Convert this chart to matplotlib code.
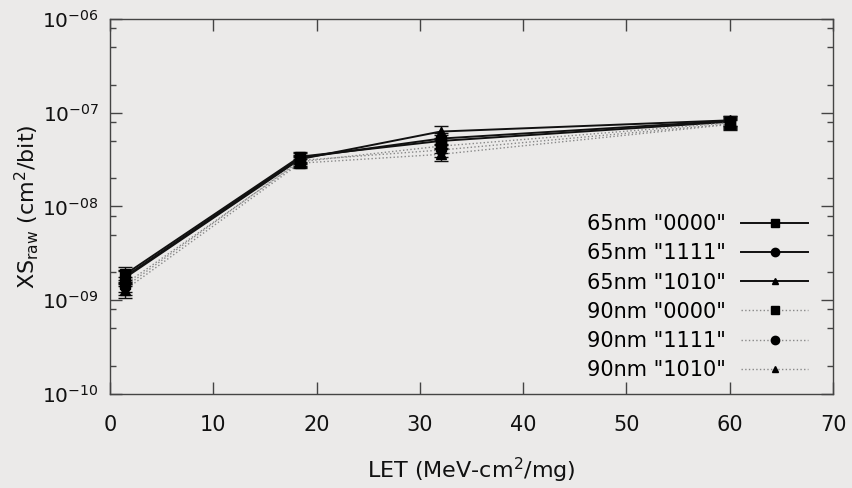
import matplotlib
matplotlib.use('Agg')
import matplotlib.pyplot as plt
from matplotlib.ticker import LogLocator, FuncFormatter, MultipleLocator, NullFormatter
import numpy as np

# LET points (MeV-cm2/mg)
let = [1.5, 18.4, 32.0, 60.0]

# cross sections per bit (cm2/bit)
xs_65_0000 = [1.90e-9, 3.40e-8, 5.00e-8, 8.00e-8]
xs_65_1111 = [1.80e-9, 3.30e-8, 5.30e-8, 8.20e-8]
xs_65_1010 = [1.75e-9, 3.20e-8, 6.30e-8, 8.30e-8]
xs_90_0000 = [1.50e-9, 3.00e-8, 4.40e-8, 7.80e-8]
xs_90_1111 = [1.40e-9, 3.10e-8, 4.00e-8, 7.60e-8]
xs_90_1010 = [1.30e-9, 2.90e-8, 3.60e-8, 7.50e-8]

# relative error (fraction)
rel_err = [0.18, 0.12, 0.15, 0.12]

labels = ['65nm "0000"', '65nm "1111"', '65nm "1010"',
          '90nm "0000"', '90nm "1111"', '90nm "1010"']

plt.rcParams['mathtext.default'] = 'regular'
plt.rcParams['font.family'] = 'DejaVu Sans'

bg = '#ebeae9'
fig = plt.figure(figsize=(8.52, 4.88), dpi=100, facecolor=bg)
ax = fig.add_axes([0.1291, 0.1926, 0.8486, 0.7685], facecolor=bg)

series = [xs_65_0000, xs_65_1111, xs_65_1010, xs_90_0000, xs_90_1111, xs_90_1010]
markers = ['s', 'o', '^', 's', 'o', '^']
for i, (ys, m, lab) in enumerate(zip(series, markers, labels)):
    ys = np.array(ys)
    err = ys * np.array(rel_err)
    if i < 3:
        ls, lc, lw = '-', '#111111', 1.4
    else:
        ls, lc, lw = ':', '#888888', 1.0
    ms = 7 if m != '^' else 6.5
    ax.errorbar(let, ys, yerr=err, fmt='none', ecolor='#111111',
                elinewidth=1.0, capsize=5, capthick=1.0, zorder=3)
    ax.plot(let, ys, linestyle=ls, color=lc, lw=lw, zorder=2)
    ax.plot(let, ys, linestyle='none', marker=m, color='black',
            markersize=ms, zorder=4)
    # legend proxy
    ax.plot([], [], linestyle=ls, color=lc, lw=lw, marker=m,
            markerfacecolor='black', markeredgecolor='black',
            markersize=6 if m != '^' else 5, label=lab)

ax.set_yscale('log')
ax.set_xlim(0, 70)
ax.set_ylim(1e-10, 1e-6)

ax.xaxis.set_major_locator(MultipleLocator(10))
ax.yaxis.set_major_locator(LogLocator(base=10, numticks=10))
ax.yaxis.set_minor_locator(LogLocator(base=10, subs=[2, 5, 8], numticks=10))
ax.yaxis.set_minor_formatter(NullFormatter())
ax.yaxis.set_major_formatter(FuncFormatter(
    lambda v, p: '$10^{-%02d}$' % int(round(-np.log10(v)))))

ax.tick_params(which='both', direction='in', top=True, right=True,
               color='#444444', width=1.0, labelcolor='#111111')
ax.tick_params(which='major', length=8.5)
ax.tick_params(which='minor', length=4.5)
ax.tick_params(axis='x', labelsize=15, pad=15)
ax.tick_params(axis='y', labelsize=14.5, pad=8)
for s in ax.spines.values():
    s.set_color('#444444')
    s.set_linewidth(1.0)

ax.set_xlabel('LET (MeV-cm$^2$/mg)', fontsize=16, color='#111111', labelpad=15)
ax.set_ylabel('XS$_{raw}$ (cm$^2$/bit)', fontsize=16, color='#111111', labelpad=1)

leg = ax.legend(loc='lower right', bbox_to_anchor=(0.977, 0.015), frameon=False,
                markerfirst=False, fontsize=15, handlelength=3.2,
                labelspacing=0.44, handletextpad=0.75, borderaxespad=0)

fig.savefig('out.png', dpi=100, facecolor=bg)
